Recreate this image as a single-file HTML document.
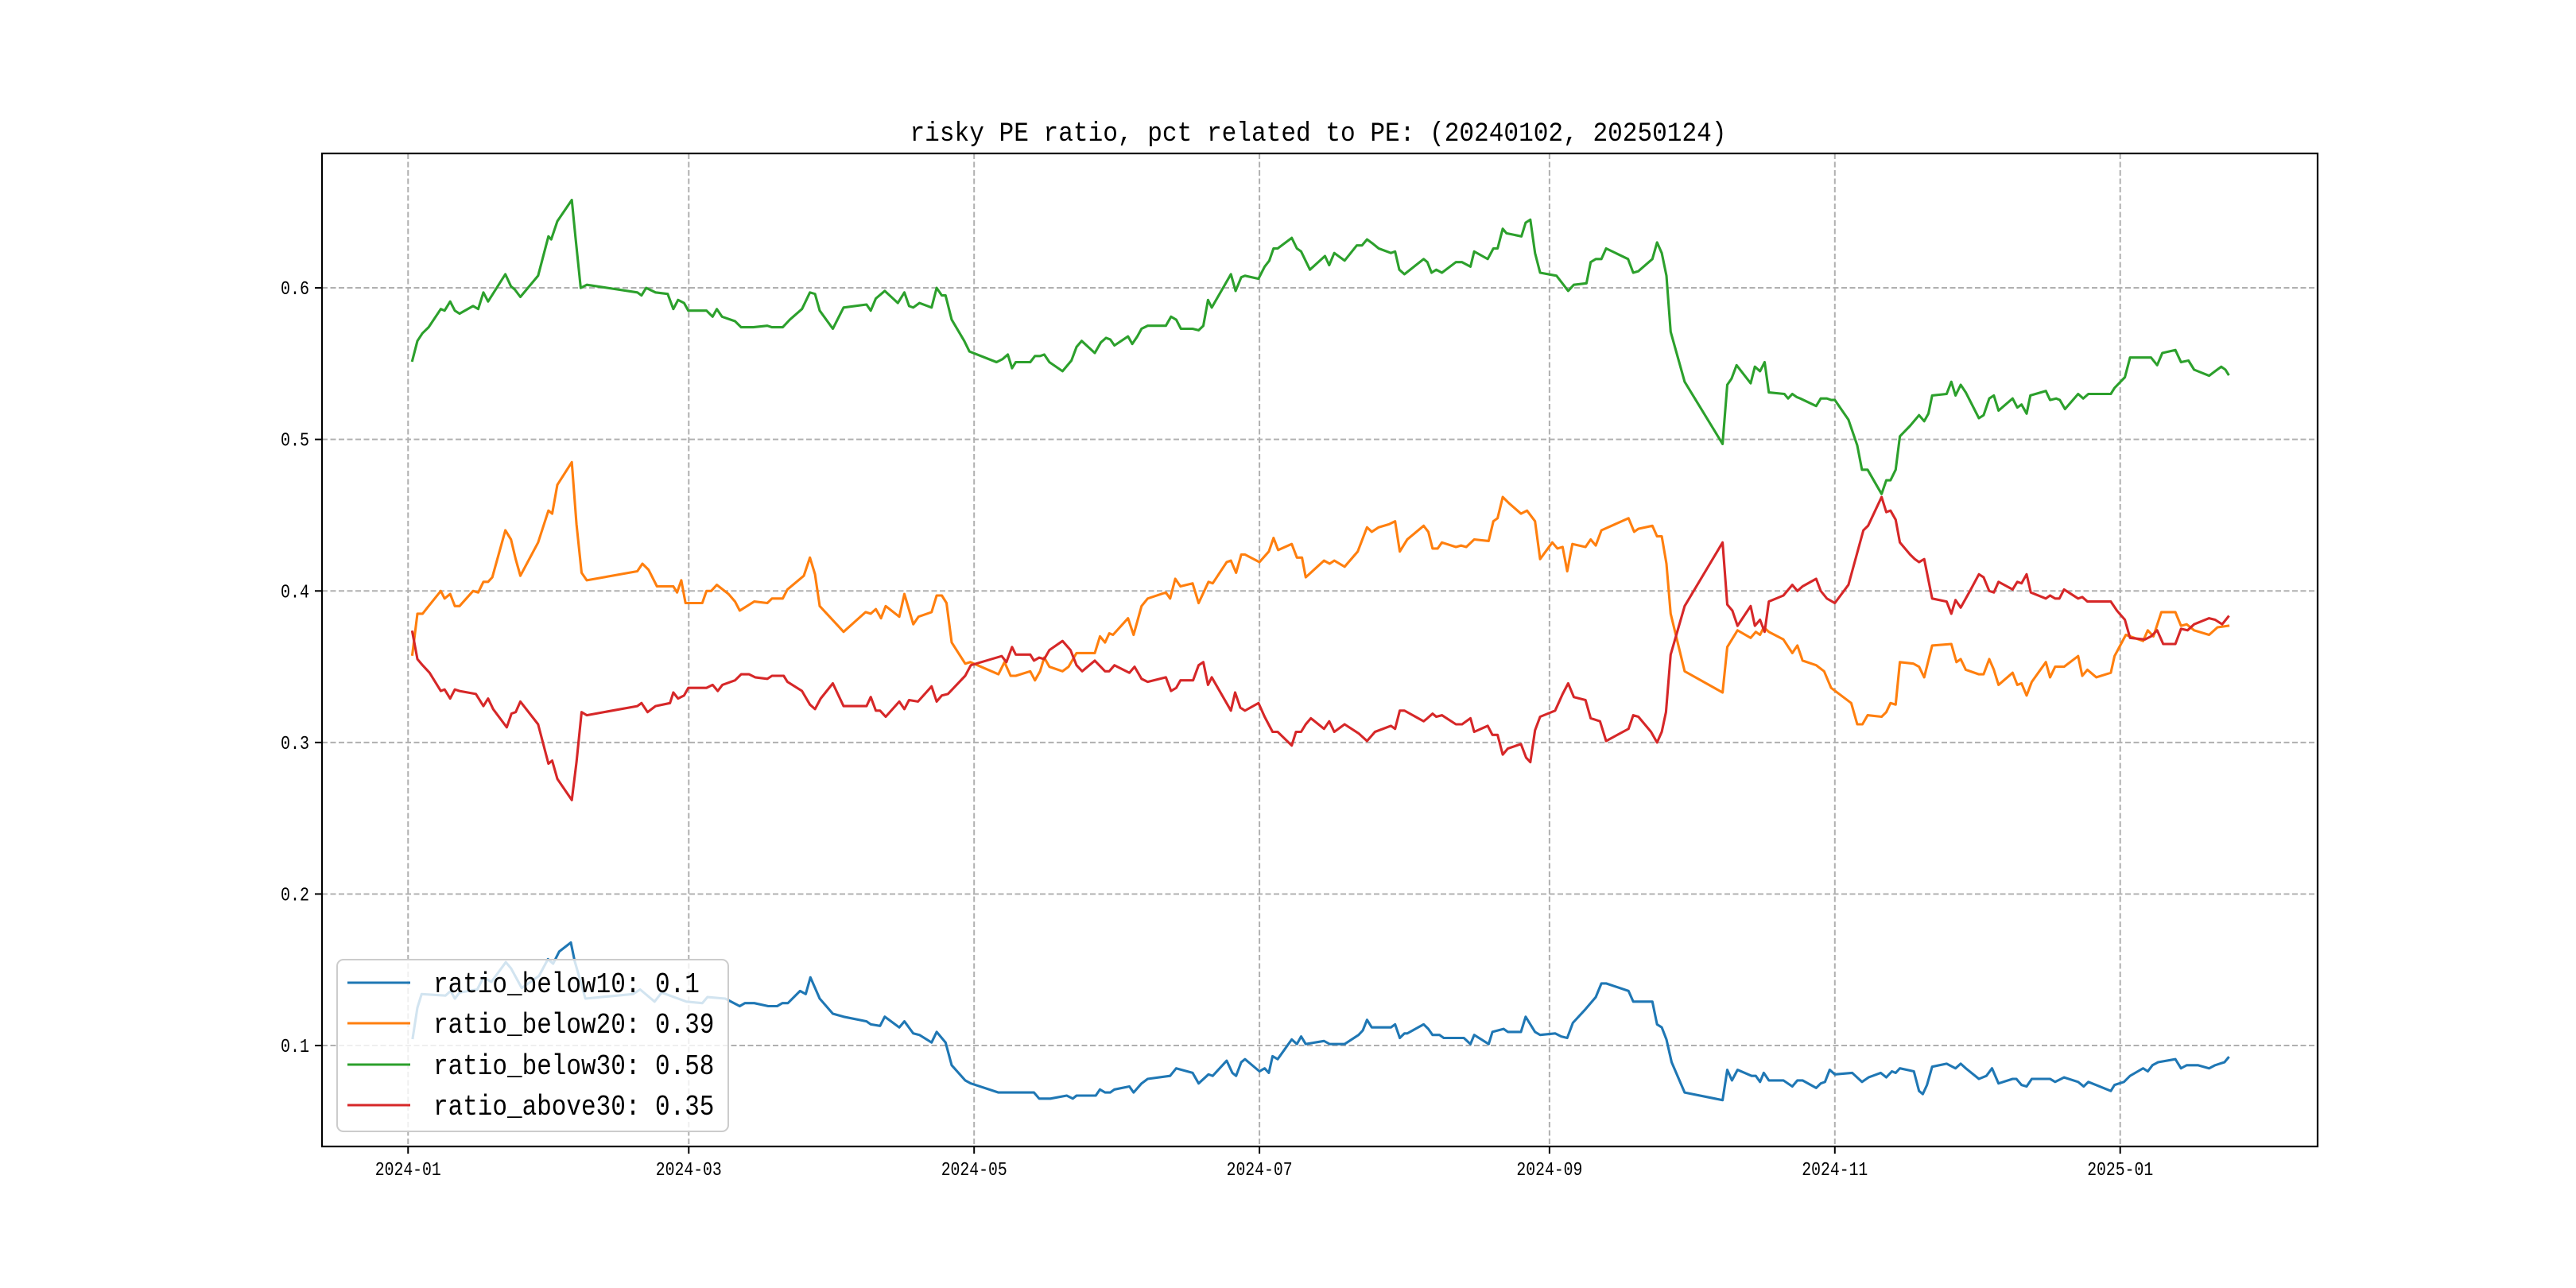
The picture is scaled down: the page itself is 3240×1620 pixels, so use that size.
<!DOCTYPE html>
<html><head><meta charset="utf-8"><style>html,body{margin:0;padding:0;background:#fff}svg{display:block}</style></head>
<body>
<svg id="chart" xmlns="http://www.w3.org/2000/svg" width="3240" height="1620" viewBox="0 0 3240 1620">
<rect x="0" y="0" width="3240" height="1620" fill="#fff"/>
<g id="grid"></g><g id="series"></g><g id="axes"></g><g id="legend"></g>
</svg>
<script>
// x values: days since 2024-01-01
const xTickLabels = ["2024-01","2024-03","2024-05","2024-07","2024-09","2024-11","2025-01"];
const xTickDays = [0,60,121,182,244,305,366];
const yTicks = [0.1,0.2,0.3,0.4,0.5,0.6];
const seriesNames = ["ratio_below10: 0.1","ratio_below20: 0.39","ratio_below30: 0.58","ratio_above30: 0.35"];
const seriesColors = ["#1f77b4","#ff7f0e","#2ca02c","#d62728"];

const blueDays = [1,2,2.9,8,9.1,10,11,14.8,16.1,17.8,20.9,22,24.3,28,29.9,31,32.3,34.8,35.6,37.9,48.1,49.6,52.7,54.2,59.5,62.9,64,67.8,70.9,72,74,77,78.9,80,81.2,83.8,85,86,88,90.8,93.1,98,98.9,100.9,101.9,105,106.1,108,109.3,111.9,113,114.9,116.2,119.1,120.3,126.2,133.8,134.9,137.3,140.8,142.1,142.9,147,147.9,149,150.1,151,154.2,155.1,156.8,158.1,162.9,164.2,167.7,169,171.1,172,175,176.2,177,178.1,178.9,182,183.1,184,184.8,185.9,188.9,190,190.9,191.9,195.8,197,200.2,203.2,204.1,205,206,210.1,211,212,213,213.6,217.1,218.1,219,220.5,221.4,225.7,227.1,227.9,231,231.8,234.2,235.1,237.9,238.9,240.9,242,245.2,246.5,247.8,249,251.7,253.9,255.1,256.1,260.9,261.9,266,267,268,269,270.1,272.9,281,282,283,284.2,287.2,288.1,289,289.8,290.9,294,295.9,297,298.1,301,302,302.9,303.9,305,308.7,310.8,312.2,314.8,316,317.2,318,318.9,321.9,323,323.8,324.7,325.8,328.9,330.8,331.9,333,335.8,337.4,338.6,340,343,343.8,344.9,346,347.1,351,352.1,354,357,358.2,359.2,360.8,364,364.8,366.8,368.1,370.9,371.9,372.9,374.1,377.8,379,380.2,382.6,385,386.3,388.3,389.1];
const blueVals = [0.105,0.125,0.134,0.133,0.136,0.131,0.135,0.137,0.145,0.142,0.155,0.151,0.138,0.146,0.157,0.154,0.162,0.168,0.156,0.131,0.134,0.137,0.129,0.135,0.129,0.128,0.132,0.131,0.126,0.128,0.128,0.126,0.126,0.128,0.128,0.136,0.134,0.145,0.131,0.121,0.119,0.116,0.114,0.113,0.119,0.112,0.116,0.108,0.107,0.102,0.109,0.102,0.087,0.077,0.075,0.069,0.069,0.065,0.065,0.067,0.065,0.067,0.067,0.071,0.069,0.069,0.071,0.073,0.069,0.075,0.078,0.080,0.085,0.082,0.075,0.081,0.080,0.090,0.082,0.080,0.089,0.091,0.083,0.085,0.082,0.093,0.091,0.104,0.101,0.106,0.101,0.103,0.101,0.101,0.107,0.110,0.117,0.112,0.112,0.114,0.105,0.108,0.108,0.114,0.111,0.107,0.107,0.105,0.105,0.101,0.107,0.101,0.109,0.111,0.109,0.109,0.119,0.109,0.107,0.108,0.106,0.105,0.115,0.124,0.132,0.141,0.141,0.136,0.129,0.129,0.114,0.112,0.104,0.089,0.069,0.064,0.084,0.077,0.084,0.080,0.080,0.076,0.082,0.077,0.077,0.073,0.077,0.077,0.072,0.075,0.076,0.084,0.081,0.082,0.076,0.079,0.082,0.079,0.083,0.082,0.085,0.083,0.070,0.068,0.074,0.086,0.088,0.085,0.088,0.085,0.078,0.080,0.085,0.075,0.078,0.078,0.074,0.073,0.078,0.078,0.076,0.079,0.076,0.073,0.076,0.074,0.070,0.074,0.076,0.080,0.085,0.083,0.087,0.089,0.091,0.085,0.087,0.087,0.085,0.087,0.089,0.092];

const orangeDays = [0.9,2,3.1,4.4,7,7.8,9,10,11,13.9,15,16.1,17.1,18,20.8,22,23,24,27.8,30,30.8,31.9,35,36,37.1,38.2,49,50.1,51.4,53.2,56.7,57.5,58.4,59.3,62.9,63.8,64.8,66,68.5,69.9,70.9,74,76.8,77.8,80.1,81.1,84.6,85.9,87,88,91.9,93.1,97.8,98.9,100,101.1,102.1,105,106.1,108,109.1,111.9,113,114.1,115.1,116.2,119.1,120.2,126.2,127.5,128.8,129.9,133,134,135.1,136,137.1,139.9,141.2,142.9,146.8,147.9,149,149.9,150.7,153.9,155.1,156.8,158.1,162,162.9,164,165.1,167.7,169,171.1,172,175,175.9,177,178.1,178.9,182,184,185,186,188.9,190,191.1,191.9,195.8,197,198,200.2,203,205,206,207.5,209.7,211,212,213.6,217.1,218.1,219,220.1,221,224,225.1,226.2,227.9,231,232,232.9,234,235.3,237.9,239.2,240.9,242,244.6,245.7,246.8,247.8,248.9,251.7,252.8,253.9,255.1,260.9,262.1,263,266,267,268,269,269.9,272.9,281,282,284.2,287,288.1,289,289.8,290.9,294,295.9,297,298.1,301,302.7,304.2,308.5,309.8,310.9,312,315,316,316.9,318,318.9,321.8,323,324.1,325.8,329.9,331,331.9,333,335.8,336.8,338,339,340,343,344,344.9,346,347.1,350.1,351,352.1,354,357,357.9,359,360.9,364,364.8,367.2,370.9,371.9,373.1,374.8,377.8,379,380.2,381.8,385,386.8,389.1];
const orangeVals = [0.358,0.385,0.385,0.390,0.400,0.395,0.398,0.390,0.390,0.400,0.399,0.406,0.406,0.409,0.440,0.434,0.421,0.410,0.432,0.453,0.451,0.470,0.485,0.444,0.412,0.407,0.413,0.418,0.414,0.403,0.403,0.399,0.407,0.392,0.392,0.400,0.400,0.404,0.398,0.393,0.387,0.393,0.392,0.395,0.395,0.401,0.410,0.422,0.411,0.390,0.377,0.373,0.386,0.385,0.388,0.382,0.390,0.383,0.398,0.378,0.383,0.386,0.397,0.397,0.392,0.366,0.352,0.353,0.345,0.353,0.344,0.344,0.347,0.341,0.347,0.356,0.350,0.347,0.350,0.359,0.359,0.370,0.366,0.372,0.371,0.382,0.371,0.390,0.395,0.399,0.395,0.408,0.403,0.405,0.392,0.406,0.405,0.419,0.420,0.412,0.424,0.424,0.419,0.426,0.435,0.427,0.431,0.422,0.422,0.409,0.420,0.418,0.420,0.416,0.426,0.442,0.439,0.442,0.444,0.446,0.426,0.434,0.443,0.439,0.428,0.428,0.432,0.429,0.430,0.429,0.434,0.433,0.446,0.448,0.462,0.458,0.451,0.453,0.446,0.421,0.432,0.428,0.429,0.413,0.431,0.429,0.434,0.430,0.440,0.448,0.439,0.441,0.443,0.436,0.436,0.418,0.385,0.347,0.333,0.363,0.374,0.369,0.373,0.371,0.376,0.373,0.368,0.359,0.364,0.354,0.351,0.347,0.336,0.326,0.312,0.312,0.318,0.317,0.320,0.326,0.325,0.353,0.352,0.350,0.343,0.364,0.365,0.353,0.355,0.348,0.345,0.345,0.355,0.348,0.338,0.346,0.338,0.339,0.331,0.340,0.353,0.343,0.350,0.350,0.357,0.344,0.348,0.343,0.346,0.357,0.371,0.367,0.374,0.370,0.386,0.386,0.377,0.378,0.374,0.371,0.376,0.377];

const greenDays = [0.9,2,3.07,4.4,7,7.8,9,10,11,13.9,15,16.1,17.1,20.8,22,22.8,24,27.8,30,30.6,31.9,35,35.8,36.9,38.2,49,49.9,50.9,52.9,55.5,56.7,57.7,59,59.9,63.8,65.1,66,67.1,69.9,71.2,73.8,76.8,77.8,80.1,81.6,84.2,85.9,87,88,90.8,93.1,98,98.9,100,101.9,104.7,106.1,107.1,108,109.3,111.9,113,114.1,114.9,116.2,118.9,120,125.8,127.1,128.2,129.1,129.9,133,134,135.1,136,137.1,139.9,141.8,142.9,144,146.8,148.1,149.2,150.1,151,153.9,154.8,155.9,156.8,158.1,162,163.1,164.2,165.2,167.7,169,170,171,171.8,175.9,176.9,178.1,178.9,181.8,183.1,184.1,185,185.9,188.9,190,190.9,192.8,196,196.9,198,200.2,202.8,203.9,205,206.3,207.5,210.1,211,211.9,213,217.1,217.9,218.8,219.8,221,224,225.3,227.1,227.9,230.8,232,232.9,234,234.8,238,238.9,239.9,240.9,242,245.5,247,248,249.2,251.9,252.8,253.9,255.1,256.1,260.8,261.9,263,266,267,268,269,269.9,272.9,281,282,282.9,284,287,287.9,289,290,290.9,294.2,295,295.9,296.8,297.6,301,302,303.3,304.2,305,307.9,309.8,310.8,312,315,316,316.9,318,318.9,321.1,323,324.1,325,325.8,328.9,329.9,330.8,331.9,333,335.8,336.8,338,339,340,343,344,344.9,346,346.8,350.1,351,352.3,353.1,354.2,357,358.1,359.2,364,364.8,367,368.1,371.5,372.6,373.9,375,377.8,379,380.6,381.8,385,386.3,387.6,388.5,389.1];
const greenVals = [0.552,0.565,0.570,0.574,0.586,0.585,0.591,0.585,0.583,0.588,0.586,0.597,0.591,0.609,0.601,0.599,0.594,0.608,0.634,0.632,0.644,0.658,0.633,0.600,0.602,0.597,0.595,0.600,0.597,0.596,0.586,0.592,0.590,0.585,0.585,0.581,0.586,0.581,0.578,0.574,0.574,0.575,0.574,0.574,0.579,0.586,0.597,0.596,0.585,0.573,0.587,0.589,0.585,0.593,0.598,0.590,0.597,0.588,0.587,0.590,0.587,0.600,0.595,0.595,0.579,0.565,0.558,0.551,0.553,0.556,0.547,0.551,0.551,0.555,0.555,0.556,0.551,0.545,0.552,0.561,0.565,0.557,0.564,0.567,0.566,0.562,0.568,0.563,0.568,0.573,0.575,0.575,0.581,0.579,0.573,0.573,0.572,0.575,0.592,0.587,0.609,0.598,0.607,0.608,0.606,0.614,0.618,0.626,0.626,0.633,0.626,0.624,0.612,0.621,0.615,0.623,0.618,0.628,0.628,0.632,0.629,0.626,0.623,0.624,0.612,0.609,0.619,0.617,0.610,0.612,0.610,0.617,0.617,0.614,0.624,0.619,0.626,0.626,0.639,0.636,0.634,0.643,0.645,0.623,0.610,0.608,0.602,0.598,0.602,0.603,0.617,0.619,0.619,0.626,0.619,0.610,0.611,0.619,0.630,0.623,0.608,0.571,0.538,0.497,0.536,0.540,0.549,0.537,0.548,0.545,0.551,0.531,0.530,0.527,0.530,0.528,0.527,0.522,0.527,0.527,0.526,0.526,0.513,0.496,0.480,0.480,0.464,0.473,0.473,0.480,0.502,0.509,0.516,0.512,0.517,0.529,0.530,0.538,0.529,0.536,0.531,0.514,0.516,0.527,0.529,0.519,0.527,0.521,0.523,0.517,0.529,0.532,0.526,0.527,0.526,0.520,0.530,0.527,0.530,0.530,0.534,0.541,0.554,0.554,0.554,0.549,0.557,0.559,0.551,0.552,0.546,0.542,0.545,0.548,0.546,0.543];

const redDays = [0.9,2,3.1,4.6,7,7.8,9,10,11,14.5,16.1,17.1,18.2,21.1,22.1,23,24,27.8,30,30.8,31.9,35,36,37.1,38.2,49,49.9,51.2,52.9,56,56.7,57.7,59,59.9,63.8,65.1,66.2,67.2,69.9,71.2,72.9,74.2,76.8,77.8,80.3,81.1,84.2,85.9,87,88.2,90.8,93.1,98,98.9,100,100.9,102.1,105,106.1,107.1,109,111.9,113,114.1,115.4,119.1,120.3,126.9,127.9,129.1,129.9,133,133.8,134.9,136,137.1,139.9,141.6,142.9,144.1,146.8,149,149.9,151,154.2,155.3,156.8,158.1,162,163.1,164.2,165.1,167.8,169,170,171,171.8,175.9,176.8,177.9,178.9,181.8,183.1,184.8,185.9,188.9,189.8,190.9,191.9,193,195.8,196.9,198,200.2,203.2,205,206.7,210.1,211,212,213,217.1,217.9,219,219.8,221,224,225.3,227.1,227.9,230.8,231.8,232.9,234,235.1,237.9,239,239.9,240.9,242,245.2,246.8,248,249.2,251.7,252.8,254.8,256.1,260.9,261.9,263,265.7,267,268,268.9,269.9,272.9,281,282,283.1,284.2,287,287.9,289,290,290.9,294,295.9,297,298.1,301,302,303.3,305,307.9,311.1,312.1,315,316,316.9,318,318.9,321.1,322.1,323,324.1,325.8,328.9,329.9,330.8,331.9,333.9,335.8,336.8,338,339,340,343,344,344.9,346,346.9,350.1,351,352.1,353,354,357,357.9,359,364,365.3,367,368.1,371.3,372.6,373.9,375.2,377.8,379,380.4,381.8,385,386.3,387.8,389.1];
const redVals = [0.373,0.355,0.351,0.346,0.334,0.335,0.329,0.335,0.334,0.332,0.324,0.329,0.322,0.310,0.319,0.320,0.327,0.312,0.286,0.288,0.276,0.262,0.287,0.320,0.318,0.324,0.326,0.320,0.324,0.326,0.333,0.329,0.331,0.336,0.336,0.338,0.334,0.338,0.341,0.345,0.345,0.343,0.342,0.344,0.344,0.340,0.334,0.325,0.322,0.329,0.339,0.324,0.324,0.330,0.321,0.321,0.317,0.327,0.322,0.328,0.327,0.337,0.327,0.331,0.332,0.344,0.351,0.357,0.353,0.363,0.358,0.358,0.354,0.356,0.355,0.361,0.367,0.361,0.351,0.347,0.354,0.347,0.347,0.351,0.346,0.350,0.342,0.340,0.343,0.334,0.336,0.341,0.341,0.351,0.353,0.338,0.343,0.321,0.333,0.323,0.321,0.326,0.317,0.307,0.307,0.298,0.307,0.307,0.312,0.316,0.309,0.314,0.307,0.312,0.306,0.301,0.307,0.311,0.309,0.321,0.321,0.314,0.316,0.319,0.317,0.318,0.312,0.312,0.316,0.307,0.311,0.305,0.305,0.292,0.296,0.299,0.290,0.287,0.308,0.317,0.321,0.332,0.339,0.330,0.328,0.316,0.314,0.301,0.309,0.318,0.317,0.307,0.300,0.307,0.320,0.358,0.390,0.432,0.391,0.387,0.377,0.390,0.377,0.381,0.373,0.393,0.397,0.404,0.400,0.403,0.408,0.400,0.395,0.392,0.404,0.440,0.443,0.462,0.452,0.453,0.447,0.432,0.424,0.421,0.419,0.421,0.395,0.393,0.385,0.394,0.389,0.400,0.411,0.409,0.400,0.399,0.406,0.401,0.406,0.405,0.411,0.399,0.395,0.397,0.395,0.395,0.401,0.395,0.396,0.393,0.393,0.387,0.381,0.369,0.368,0.370,0.374,0.365,0.365,0.375,0.374,0.378,0.382,0.381,0.378,0.383];

const NS = "http://www.w3.org/2000/svg";
const L = 405, R = 2915, T = 193, B = 1442;
const xMin = -18.4, xMax = 408.2, yMin = 0.0334, yMax = 0.6887;
function xs(d){ return L + (d - xMin) / (xMax - xMin) * (R - L); }
function ys(v){ return B - (v - yMin) / (yMax - yMin) * (B - T); }
function mk(tag, attrs, parent){ const e = document.createElementNS(NS, tag); for (const k in attrs) e.setAttribute(k, attrs[k]); parent.appendChild(e); return e; }
const FONT = '"Liberation Mono", "Noto Sans CJK SC", monospace';

const grid = document.getElementById('grid');
const axes = document.getElementById('axes');
xTickDays.forEach((d, i) => {
  const x = xs(d);
  const g = mk('line', {x1:x, x2:x, y1:T, y2:B, stroke:'#b0b0b0', 'stroke-width':2, 'stroke-dasharray':'7,3.5'}, grid);
  
  
  const t = mk('line', {x1:x, x2:x, y1:B, y2:B+9, stroke:'#000', 'stroke-width':2}, axes);
  
  
  const lb = mk('text', {x:x, y:1478, 'text-anchor':'middle', 'font-size':24, 'font-family':FONT, textLength: 83, lengthAdjust:'spacingAndGlyphs'}, axes);
  lb.textContent = xTickLabels[i];
  
  
});
yTicks.forEach(v => {
  const y = ys(v);
  const g = mk('line', {x1:L, x2:R, y1:y, y2:y, stroke:'#b0b0b0', 'stroke-width':2, 'stroke-dasharray':'7,3.5'}, grid);
  
  
  const t = mk('line', {x1:L-9, x2:L, y1:y, y2:y, stroke:'#000', 'stroke-width':2}, axes);
  
  
  const lb = mk('text', {x:389, y:y+8, 'text-anchor':'end', 'font-size':24, 'font-family':FONT, textLength:36, lengthAdjust:'spacingAndGlyphs'}, axes);
  lb.textContent = v.toFixed(1);
  
  
});
const frame = mk('rect', {x:L, y:T, width:R-L, height:B-T, fill:'none', stroke:'#000', 'stroke-width':2.2}, axes);


const title = mk('text', {x:1658, y:177, 'text-anchor':'middle', 'font-size':34, 'font-family':FONT, textLength:1027, lengthAdjust:'spacingAndGlyphs'}, axes);
title.textContent = 'risky PE ratio, pct related to PE: (20240102, 20250124)';



const seriesG = document.getElementById('series');
const allDays = [blueDays, orangeDays, greenDays, redDays];
const allVals = [blueVals, orangeVals, greenVals, redVals];
const seriesKeys = ['ratio-below10-line','ratio-below20-line','ratio-below30-line','ratio-above30-line'];
allDays.forEach((days, i) => {
  const vals = allVals[i];
  const pts = days.map((d, j) => xs(d).toFixed(1) + ',' + ys(vals[j]).toFixed(1)).join(' ');
  const pl = mk('polyline', {points:pts, fill:'none', stroke:seriesColors[i], 'stroke-width':3.1, 'stroke-linejoin':'round', 'stroke-linecap':'square'}, seriesG);
  
  
});

const leg = document.getElementById('legend');


const box = mk('rect', {x:424, y:1207, width:492, height:216, rx:8, ry:8, fill:'rgba(255,255,255,0.8)', stroke:'#cccccc', 'stroke-width':2}, leg);


const rowY = [1236, 1287, 1339, 1390];
seriesNames.forEach((n, i) => {
  const h = mk('line', {x1:437, x2:516, y1:rowY[i], y2:rowY[i], stroke:seriesColors[i], 'stroke-width':3.1}, leg);
  
  
  const t = mk('text', {x:545, y:rowY[i]+12, 'font-size':36, 'font-family':FONT, textLength:(n.length*18.6).toFixed(1), lengthAdjust:'spacingAndGlyphs'}, leg);
  t.textContent = n;
  
  
});
</script>
</body></html>
